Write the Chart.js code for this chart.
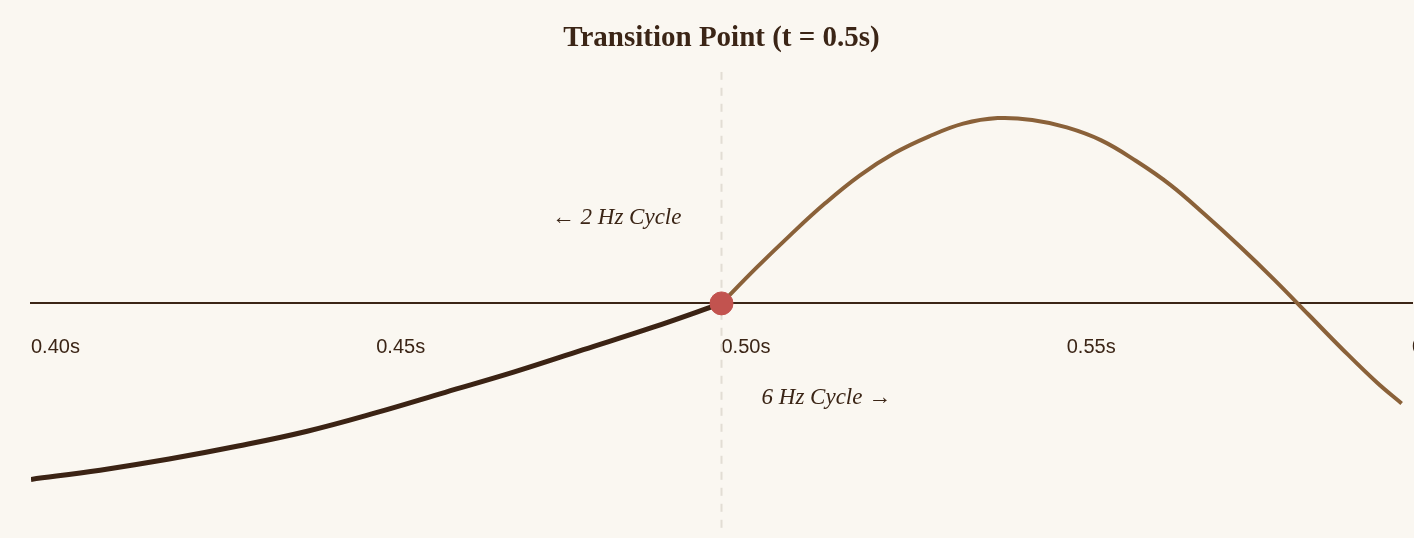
<!DOCTYPE html>
<html>
<head>
<meta charset="utf-8">
<title>Transition Point</title>
<script src="https://cdn.jsdelivr.net/npm/chart.js@4.4.1/dist/chart.umd.min.js"></script>
<style>
    html, body { margin: 0; padding: 0; background: #faf7f1; overflow: hidden; }
    .chart-box { width: 1443px; height: 538px; }
</style>
</head>
<body>
<div class="chart-box"><canvas id="transitionChart" width="1443" height="538"></canvas></div>
<script>
// 2 Hz part, up to the switch
const slowTimes  = [0.40, 0.41, 0.42, 0.43, 0.44, 0.45, 0.46, 0.47, 0.48, 0.49, 0.50];
const slowValues = [-0.95, -0.90, -0.84, -0.77, -0.69, -0.59, -0.48, -0.37, -0.25, -0.13, 0];

// 6 Hz part, after the switch
const fastTimes  = [0.500, 0.505, 0.510, 0.515, 0.520, 0.525, 0.530, 0.535, 0.540, 0.545,
                    0.550, 0.555, 0.560, 0.565, 0.570, 0.575, 0.580, 0.585, 0.590, 0.595, 0.5985];
const fastValues = [0, 0.19, 0.37, 0.54, 0.69, 0.81, 0.90, 0.97, 1.00, 0.99,
                    0.95, 0.88, 0.77, 0.64, 0.48, 0.31, 0.13, -0.06, -0.25, -0.43, -0.54];

const switchTime = 0.5;
const switchValue = 0;
const tickStep = 0.05;

const notes = [
    { text: '\u2190 2 Hz Cycle', t: 0.4942, v: 0.46, align: 'right' },
    { text: '6 Hz Cycle \u2192', t: 0.5058, v: -0.51, align: 'left' }
];

const ink = '#3b2516';
const toPoints = (xs, ys) => xs.map((x, i) => ({ x: x, y: ys[i] }));

const notesPlugin = {
    id: 'notes',
    afterDatasetsDraw(chart) {
        const ctx = chart.ctx;
        const xs = chart.scales.x;
        const ys = chart.scales.y;
        ctx.save();
        ctx.font = 'italic 23px "Liberation Serif", serif';
        ctx.fillStyle = ink;
        ctx.textBaseline = 'middle';
        notes.forEach(n => {
            ctx.textAlign = n.align;
            ctx.fillText(n.text, xs.getPixelForValue(n.t), ys.getPixelForValue(n.v));
        });
        ctx.restore();
    }
};

new Chart(document.getElementById('transitionChart'), {
    type: 'line',
    data: {
        datasets: [
            {
                // the switch point
                data: [{ x: switchTime, y: switchValue }],
                showLine: false,
                pointRadius: 11.5,
                pointBackgroundColor: '#c2534f',
                pointBorderColor: '#c2534f',
                pointBorderWidth: 1,
                order: 0
            },
            {
                data: toPoints(slowTimes, slowValues),
                borderColor: '#3b2314',
                borderWidth: 5,
                pointRadius: 0,
                tension: 0.4,
                order: 1
            },
            {
                data: toPoints(fastTimes, fastValues),
                borderColor: '#8a6139',
                borderWidth: 4,
                pointRadius: 0,
                tension: 0.4,
                order: 2
            },
            {
                // dashed marker at the switch
                data: [{ x: switchTime, y: 1.25 }, { x: switchTime, y: -1.25 }],
                borderColor: '#e2ddd4',
                borderWidth: 2,
                borderDash: [8, 8],
                pointRadius: 0,
                order: 3
            }
        ]
    },
    options: {
        responsive: false,
        animation: false,
        layout: { autoPadding: false, padding: { left: 31, right: 31, top: 0, bottom: 3 } },
        plugins: {
            legend: { display: false },
            tooltip: { enabled: false },
            title: {
                display: true,
                text: 'Transition Point (t = 0.5s)',
                color: ink,
                font: { family: '"Liberation Serif", serif', size: 29, weight: 'bold' },
                padding: { top: 21, bottom: 16 }
            }
        },
        scales: {
            x: {
                type: 'linear',
                min: 0.4,
                max: 0.6,
                position: { y: 0 },
                grid: { display: false, drawTicks: false },
                border: { display: true, color: ink, width: 2 },
                ticks: {
                    stepSize: tickStep,
                    align: 'start',
                    padding: 32,
                    color: ink,
                    font: { family: '"Liberation Sans", Arial, sans-serif', size: 20 },
                    callback: v => v.toFixed(2) + 's'
                },
                afterFit(scale) {
                    scale.paddingLeft = 0;
                    scale.paddingRight = 0;
                    scale.paddingTop = 0;
                    scale.paddingBottom = 0;
                }
            },
            y: {
                type: 'linear',
                min: -1.25,
                max: 1.25,
                display: false
            }
        }
    },
    plugins: [notesPlugin]
});
</script>
</body>
</html>
